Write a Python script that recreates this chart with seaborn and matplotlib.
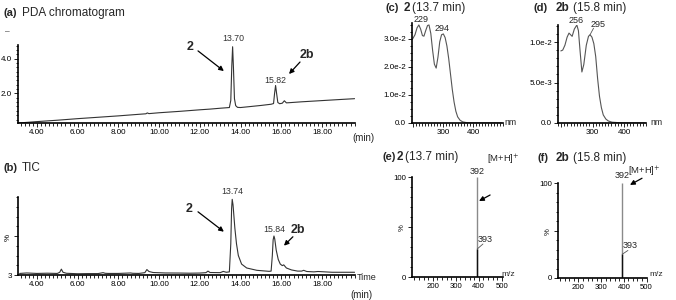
import matplotlib
matplotlib.use('Agg')
import matplotlib.pyplot as plt
from matplotlib.ticker import MultipleLocator
import seaborn as sns

# (a) PDA chromatogram, retention time (min) vs signal
pda_time = [3.10, 4.0, 5.0, 6.0, 7.0, 8.0, 9.0, 9.35, 9.42, 9.5, 10.0, 11.0, 12.0, 12.5, 13.0,
            13.45, 13.52, 13.57, 13.61, 13.65, 13.70, 13.76, 13.85, 14.0, 14.5, 15.0, 15.5, 15.62,
            15.67, 15.72, 15.77, 15.83, 15.92, 16.05, 16.15, 16.25, 16.4, 17.0, 18.0, 19.0, 19.6]
pda_signal = [0.30, 0.38, 0.46, 0.55, 0.63, 0.71, 0.80, 0.83, 0.88, 0.84, 0.89, 0.97, 1.06, 1.10, 1.15,
              1.19, 1.60, 3.60, 4.69, 3.50, 1.70, 1.30, 1.20, 1.19, 1.25, 1.31, 1.38, 1.42,
              2.00, 2.46, 2.00, 1.48, 1.41, 1.44, 1.58, 1.46, 1.47, 1.52, 1.59, 1.66, 1.70]

# (b) TIC, relative %
tic_time = [3.15, 3.5, 4.0, 4.5, 5.0, 5.12, 5.2, 5.28, 5.45, 6.0, 6.5, 7.0, 7.25, 7.35, 7.5,
            8.0, 8.6, 8.7, 9.0, 9.3, 9.4, 9.5, 9.7, 10.3, 11.0, 11.5, 12.0, 12.3, 12.4, 12.5,
            13.0, 13.15, 13.3, 13.45, 13.52, 13.56, 13.59, 13.63, 13.72, 13.80, 13.89, 14.05, 14.3, 14.8, 15.4,
            15.50, 15.56, 15.60, 15.64, 15.68, 15.75, 15.85, 15.95, 16.05, 16.12, 16.25, 16.5, 16.8, 17.0, 17.1,
            17.25, 17.6, 17.8, 18.5, 19.0, 19.6]
tic_signal = [2.0, 2.6, 2.0, 2.3, 2.0, 3.5, 7.5, 3.5, 2.2, 1.6, 1.8, 1.8, 3.0, 2.2, 2.0,
              2.0, 2.6, 2.2, 2.0, 3.0, 7.0, 4.5, 3.2, 2.6, 2.5, 2.3, 2.5, 3.0, 5.0, 3.2,
              3.0, 4.6, 3.5, 4.0, 40, 85, 97, 90, 60, 40, 25, 14, 9, 6, 4.7,
              5, 25, 45, 50, 46, 32, 20, 14, 12, 13, 9, 6.5, 5, 5, 6,
              4.5, 4, 4.5, 3.5, 3.5, 3.5]

time_ticks = [4, 6, 8, 10, 12, 14, 16, 18]
time_labels = ['4.00', '6.00', '8.00', '10.00', '12.00', '14.00', '16.00', '18.00']

# (c) UV spectrum of 2
uv2_nm = [197, 205, 212, 218, 224, 230, 235, 241, 247, 252, 258, 264, 270, 276, 282, 288, 294, 300,
          306, 312, 318, 324, 330, 336, 342, 348, 356, 365, 380, 400, 430, 460, 495]
uv2_abs = [0.0300, 0.0315, 0.0340, 0.0350, 0.0335, 0.0312, 0.0310, 0.0330, 0.0348, 0.0350, 0.0320,
           0.0260, 0.0210, 0.0196, 0.0235, 0.0290, 0.0315, 0.0318, 0.0305, 0.0275, 0.0230, 0.0175,
           0.0120, 0.0075, 0.0042, 0.0022, 0.0010, 0.0004, 0.0001, 0.0, 0.0, 0.0, 0.0]

# (d) UV spectrum of 2b
uv2b_nm = [199, 205, 212, 219, 225, 230, 235, 242, 250, 255, 260, 266, 272, 280, 287, 292, 298,
           304, 310, 316, 322, 328, 334, 342, 350, 362, 380, 400, 440, 468]
uv2b_abs = [0.0089, 0.0090, 0.0096, 0.0106, 0.0111, 0.0109, 0.0107, 0.0116, 0.0121, 0.0114, 0.0090,
            0.0063, 0.0072, 0.0096, 0.0107, 0.0109, 0.0106, 0.0098, 0.0082, 0.0055, 0.0033, 0.0019,
            0.0010, 0.0005, 0.00025, 0.0001, 0.00005, 0.0, 0.0, 0.0]

# (e), (f) mass spectra
ms_mz = [392, 393]
ms2_int = [100, 28]
ms2b_int = [100, 25]

sns.set_style('ticks')
plt.rcParams['font.family'] = ['Liberation Sans', 'DejaVu Sans']

W, H = 676, 300
fig = plt.figure(figsize=(W / 100, H / 100), dpi=100)


def box(l, t, r, b):
    return fig.add_axes([l / W, 1 - b / H, (r - l) / W, (b - t) / H])


def label(x, y, s, **kw):
    kw.setdefault('va', 'center')
    fig.text(x / W, 1 - y / H, s, **kw)


def style(ax, lsize=5.8):
    sns.despine(ax=ax)
    for s in ['left', 'bottom']:
        ax.spines[s].set_linewidth(1.2)
        ax.spines[s].set_color('k')
    ax.tick_params(which='both', direction='out', width=0.6, labelsize=lsize, pad=1.2, colors='k')
    ax.tick_params(which='major', length=3)
    ax.tick_params(which='minor', length=1.8)
    ax.set_xlabel('')
    ax.set_ylabel('')
    ax.set_facecolor('none')


arrow = dict(arrowstyle='-|>', color='k', lw=0.9, mutation_scale=7, shrinkA=0, shrinkB=0)
line_col = '#333333'

# ---- (a) PDA
ax = box(18, 45, 355, 123)
sns.lineplot(x=pda_time, y=pda_signal, ax=ax, color=line_col, lw=0.8, estimator=None, sort=False)
ax.set_xlim(3.07, 19.62)
ax.set_ylim(0.3, 4.79)
ax.set_xticks(time_ticks, time_labels)
ax.xaxis.set_minor_locator(MultipleLocator(0.2))
ax.set_yticks([2, 4], ['2.0', '4.0'])
ax.yaxis.set_minor_locator(MultipleLocator(0.25))
style(ax)
ax.text(13.63, 5.14, '13.70', fontsize=6.3, ha='center', va='center', color=line_col, clip_on=False)
ax.text(15.69, 2.77, '15.82', fontsize=6.3, ha='center', va='center', color=line_col)
ax.text(11.51, 4.68, '2', fontsize=9, fontweight='bold', ha='center', va='center', clip_on=False)
ax.annotate('', xy=(13.18, 3.29), xytext=(11.91, 4.45), arrowprops=arrow)
ax.text(17.26, 4.21, '2b', fontsize=9, fontweight='bold', ha='center', va='center')
ax.annotate('', xy=(16.38, 3.12), xytext=(16.92, 3.81), arrowprops=arrow)
label(4, 13, '(a)', fontsize=8, fontweight='bold')
label(22, 13, 'PDA chromatogram', fontsize=8.5)
label(5, 32, '–', fontsize=6)
label(363, 138, '(min)', fontsize=7, ha='center')

# ---- (b) TIC
ax = box(18, 197, 355, 275)
sns.lineplot(x=tic_time, y=tic_signal, ax=ax, color=line_col, lw=0.8, estimator=None, sort=False)
ax.set_xlim(3.07, 19.62)
ax.set_ylim(0, 100)
ax.set_xticks(time_ticks, time_labels)
ax.xaxis.set_minor_locator(MultipleLocator(0.2))
ax.set_yticks([0, 50], ['3', '%'])
ax.get_yticklabels()[1].set_rotation(90)
ax.yaxis.set_minor_locator(MultipleLocator(12.5))
style(ax)
ax.text(13.59, 106.8, '13.74', fontsize=6.3, ha='center', va='center', color=line_col, clip_on=False)
ax.text(15.64, 58, '15.84', fontsize=6.3, ha='center', va='center', color=line_col)
ax.text(11.47, 85, '2', fontsize=9, fontweight='bold', ha='center', va='center')
ax.annotate('', xy=(13.18, 55.5), xytext=(11.91, 81), arrowprops=arrow)
ax.text(16.82, 58, '2b', fontsize=9, fontweight='bold', ha='center', va='center')
ax.annotate('', xy=(16.13, 37.6), xytext=(16.57, 49), arrowprops=arrow)
label(4, 168, '(b)', fontsize=8, fontweight='bold')
label(22, 168, 'TIC', fontsize=8.5)
label(367, 277, 'Time', fontsize=6.5, ha='center')
label(361, 295, '(min)', fontsize=7, ha='center')

# ---- (c) UV of 2
ax = box(412, 23, 503, 123)
sns.lineplot(x=uv2_nm, y=uv2_abs, ax=ax, color='#555555', lw=0.8, estimator=None, sort=False)
ax.set_xlim(195, 500)
ax.set_ylim(0, 0.0357)
ax.set_xticks([200, 300, 400], ['', '300', '400'])
ax.xaxis.set_minor_locator(MultipleLocator(10))
ax.set_yticks([0, 0.01, 0.02, 0.03], ['0.0', '1.0e-2', '2.0e-2', '3.0e-2'])
ax.yaxis.set_minor_locator(MultipleLocator(0.0025))
style(ax, 5.8)
ax.text(225, 0.0368, '229', fontsize=6.5, ha='center', va='center', clip_on=False)
ax.text(296, 0.0336, '294', fontsize=6.5, ha='center', va='center')
label(510, 122, 'nm', fontsize=6.3, ha='center')
label(385, 8, '(c)', fontsize=8, fontweight='bold')
label(404, 8, '2', fontsize=8.5, fontweight='bold')
label(412, 8, '(13.7 min)', fontsize=8.5)

# ---- (d) UV of 2b
ax = box(558, 25, 646, 123)
sns.lineplot(x=uv2b_nm, y=uv2b_abs, ax=ax, color='#555555', lw=0.8, estimator=None, sort=False)
ax.set_xlim(190, 470)
ax.set_ylim(0, 0.0121)
ax.set_xticks([200, 300, 400], ['', '300', '400'])
ax.xaxis.set_minor_locator(MultipleLocator(10))
ax.set_yticks([0, 0.005, 0.01], ['0.0', '5.0e-3', '1.0e-2'])
ax.yaxis.set_minor_locator(MultipleLocator(0.001))
style(ax, 5.8)
ax.text(247, 0.0127, '256', fontsize=6.5, ha='center', va='center', clip_on=False)
ax.text(316, 0.0122, '295', fontsize=6.5, ha='center', va='center', clip_on=False)
ax.plot([292, 303], [0.0109, 0.0117], color='#555555', lw=0.6)
label(656, 123, 'nm', fontsize=6.3, ha='center')
label(533, 8, '(d)', fontsize=8, fontweight='bold')
label(556, 8, '2b', fontsize=8.5, fontweight='bold')
label(573, 8, '(15.8 min)', fontsize=8.5)


# ---- (e), (f) mass spectra
def ms_panel(ax, inten, xlim, lab392, lab393, mh, arr_tail, arr_head, lead):
    ax.vlines(ms_mz[0], 0, inten[0], color='#8a8a8a', lw=1.0)
    ax.vlines(ms_mz[1], 0, inten[1], color='#111111', lw=1.0)
    ax.set_xlim(*xlim)
    ax.set_ylim(0, 100)
    ax.set_xticks([200, 300, 400, 500], ['200', '300', '400', '500'])
    ax.xaxis.set_minor_locator(MultipleLocator(20))
    ax.set_yticks([0, 50, 100], ['0', '%', '100'])
    ax.get_yticklabels()[1].set_rotation(90)
    ax.yaxis.set_minor_locator(MultipleLocator(10))
    style(ax, 5.6)
    ax.text(392, lab392, '392', fontsize=6.5, ha='center', va='center', clip_on=False)
    ax.text(427, lab393, '393', fontsize=6.5, ha='center', va='center')
    ax.plot(*lead, color='#555555', lw=0.6)
    ax.text(mh[0], mh[1], '[M+H]$^{+}$', fontsize=6.8, ha='left', va='center', clip_on=False)
    ax.annotate('', xy=arr_head, xytext=arr_tail, arrowprops=arrow)


ax = box(412, 177, 503, 277)
ms_panel(ax, ms2_int, (110, 505), 105, 38, (436, 117), (449, 82), (401, 76),
         ([393, 418], [28, 33]))
label(508, 274, 'm/z', fontsize=6, ha='center')
label(383, 157, '(e)', fontsize=8, fontweight='bold')
label(397, 157, '2', fontsize=8.5, fontweight='bold')
label(405, 157, '(13.7 min)', fontsize=8.5)

ax = box(558, 183, 647, 278)
ms_panel(ax, ms2b_int, (110, 502), 108, 34, (420, 112), (480, 105), (427, 98),
         ([393, 418], [25, 29]))
label(656, 275, 'm/z', fontsize=6, ha='center')
label(537, 158, '(f)', fontsize=8, fontweight='bold')
label(556, 158, '2b', fontsize=8.5, fontweight='bold')
label(573, 158, '(15.8 min)', fontsize=8.5)

fig.savefig('out.png', dpi=100)
